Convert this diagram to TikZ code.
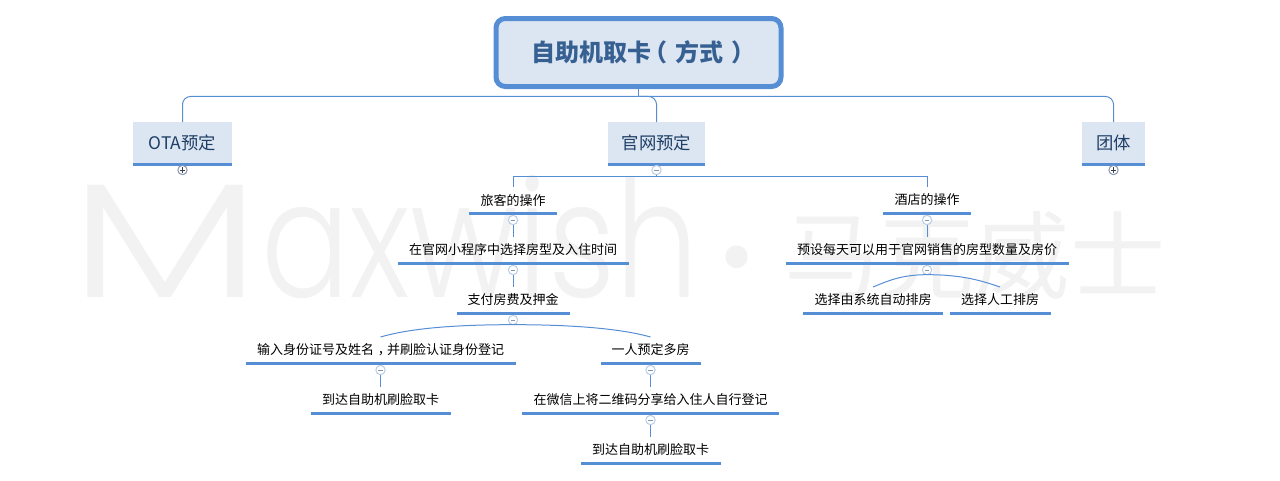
\documentclass[tikz,border=0pt]{standalone}
\usepackage{fontspec}
\setmainfont{Noto Sans CJK SC}
\newfontfamily\wmlatin{Poppins Light}
\usetikzlibrary{positioning,calc}
\definecolor{mapblue}{HTML}{558ED5}
\definecolor{mapfill}{HTML}{DCE6F2}
\definecolor{mapink}{HTML}{376092}
\definecolor{topicink}{HTML}{1F3F66}
\definecolor{markgray}{HTML}{F2F2F2}
\definecolor{colblue}{HTML}{B9CDE5}
\definecolor{colink}{HTML}{8496B0}
\tikzstyle{rootbox}=[rectangle, rounded corners=7pt, draw=mapblue, fill=mapfill, line width=3.75pt, minimum width=213.75pt, minimum height=51pt, inner sep=0pt, text=mapink, font=\fontsize{18pt}{20pt}\selectfont\bfseries]
\tikzstyle{topicbox}=[rectangle, fill=mapfill, minimum height=31.5pt, inner sep=0pt, outer sep=0pt, text=topicink, font=\fontsize{13pt}{15pt}\selectfont]
\tikzstyle{subbox}=[rectangle, minimum height=19.5pt, inner sep=0pt, outer sep=0pt, text=black, font=\fontsize{9.75pt}{11pt}\selectfont]
\tikzstyle{uline}=[-, mapblue, line width=2.25pt]
\tikzstyle{line}=[-, mapblue, line width=.75pt]
\tikzstyle{colbox}=[circle, draw=colblue, fill=white, line width=.75pt, minimum size=7pt, inner sep=0pt, outer sep=0pt]
\tikzstyle{wmark}=[inner sep=0pt, text=markgray]
% topic box with its rule under it
\newcommand\topicnode[4][]{
    \node (#2) [topicbox, minimum width=#3, #1] {#4};
    \draw[uline] (#2.south west) -- (#2.south east);
}
\newcommand\subnode[4][]{
    \node (#2) [subbox, minimum width=#3, #1] {#4};
    \draw[uline] (#2.south west) -- (#2.south east);
}
% collapse buttons
\newcommand\colminus[3][1.75pt]{
    \node (#2) [colbox, below=#1 of #3.south] {};
    \draw[colink, line width=.6pt] ($(#2)+(-1.8pt,0)$) -- ($(#2)+(1.8pt,0)$);
}
\newcommand\colplus[3][1pt]{
    \node (#2) [colbox, draw=colink, below=#1 of #3.south] {};
    \draw[darkgray, line width=.5pt] ($(#2)+(-1.9pt,0)$) -- ($(#2)+(1.9pt,0)$);
    \draw[darkgray, line width=.5pt] ($(#2)+(0,-1.9pt)$) -- ($(#2)+(0,1.9pt)$);
}
\begin{document}
\begin{tikzpicture}[x=.75pt, y=-.75pt, node distance=18pt]
    \useasboundingbox (0,0) rectangle (1280,480);

    % watermark
    \node (wmname) [wmark, anchor=base west] at (69,297) {\fontsize{122pt}{130pt}\wmlatin \scalebox{1.4}[1]{M}\scalebox{.81}[1]{axwish}};
    \node (wmdot) [wmark] at (737,290) {\fontsize{165pt}{165pt}\wmlatin ·};
    \node (wmcn) [wmark, anchor=base west] at (784,291) {\fontsize{71.5pt}{75pt}\selectfont 马克威士};

    \node (root) [rootbox] at (638.5,52.5) {\hspace{7.5pt}自助机取卡\hspace{-6pt}（\hspace{6pt}方式\hspace{6pt}）\hspace{-6pt}};

    \topicnode[below=24.75pt of root.south, xshift=13.5pt]{web}{72.75pt}{官网预定}
    \topicnode[left=282pt of web]{ota}{74.25pt}{OTA预定}
    \topicnode[right=282.75pt of web]{team}{47.25pt}{团体}

    \colplus{cota}{ota}
    \colminus[1pt]{cweb}{web}
    \colplus{cteam}{team}

    % left branch
    \subnode[below=17.25pt of web, xshift=-107.6pt]{guest}{66pt}{旅客的操作}
    \subnode[below=of guest]{pick}{173.25pt}{在官网小程序中选择房型及入住时间}
    \subnode[below=of pick]{pay}{84.75pt}{支付房费及押金}
    \subnode[below=of pay, xshift=-99.4pt]{idcard}{202.5pt}{输入身份证号及姓名\hspace{3pt}，\hspace{-3pt}并刷脸认证身份登记}
    \subnode[below=of pay, xshift=103.1pt]{multi}{75pt}{一人预定多房}
    \subnode[below=of idcard]{scana}{105pt}{到达自助机刷脸取卡}
    \subnode[below=of multi]{share}{192.75pt}{在微信上将二维码分享给入住人自行登记}
    \subnode[below=of share]{scanb}{105pt}{到达自助机刷脸取卡}

    % right branch
    \subnode[below=17.25pt of web, xshift=202.9pt]{hotel}{66pt}{酒店的操作}
    \subnode[below=of hotel]{preset}{212.25pt}{预设每天可以用于官网销售的房型数量及房价}
    \subnode[below=of preset, xshift=-40.5pt]{auto}{105pt}{选择由系统自动排房}
    \subnode[below=of preset, xshift=54.75pt]{manual}{75.75pt}{选择人工排房}

    \coordinate (hubroot) at ($(root.south)+(0,-5.6pt)$);
    \coordinate (hubweb) at ($(web.south)+(0,-9.4pt)$);

    \draw[line] (root.south) -- (hubroot);
    \draw[line, rounded corners=6pt] (hubroot) -| (ota.north);
    \draw[line, rounded corners=6pt] (hubroot) -| (web.north);
    \draw[line, rounded corners=6pt] (hubroot) -| (team.north);

    \draw[line] (cweb.south) -- (hubweb);
    \draw[line] (hubweb) -| (guest.north);
    \draw[line] (hubweb) -| (hotel.north);

    \draw[line] (guest.south) -- (pick.north);
    \draw[line] (pick.south) -- (pay.north);
    \draw[line] (idcard.south) -- (scana.north);
    \draw[line] (multi.south) -- (share.north);
    \draw[line] (share.south) -- (scanb.north);
    \draw[line] (hotel.south) -- (preset.north);

    \colminus{cguest}{guest}
    \colminus{cpick}{pick}
    \colminus{cpay}{pay}
    \colminus{cidcard}{idcard}
    \colminus{cmulti}{multi}
    \colminus{cshare}{share}
    \colminus{chotel}{hotel}
    \colminus{cpreset}{preset}

%curves under the last two buttons
    \draw[line] (cpay.south) .. controls +(-60pt,0) and +(14pt,4pt) .. (idcard.north);
    \draw[line] (cpay.south) .. controls +(60pt,0) and +(-14pt,4pt) .. (multi.north);
    \draw[line] (cpreset.south) .. controls +(-20pt,0) and +(10pt,4pt) .. (auto.north);
    \draw[line] (cpreset.south) .. controls +(28pt,0) and +(-12pt,4pt) .. (manual.north);

\end{tikzpicture}
\end{document}
